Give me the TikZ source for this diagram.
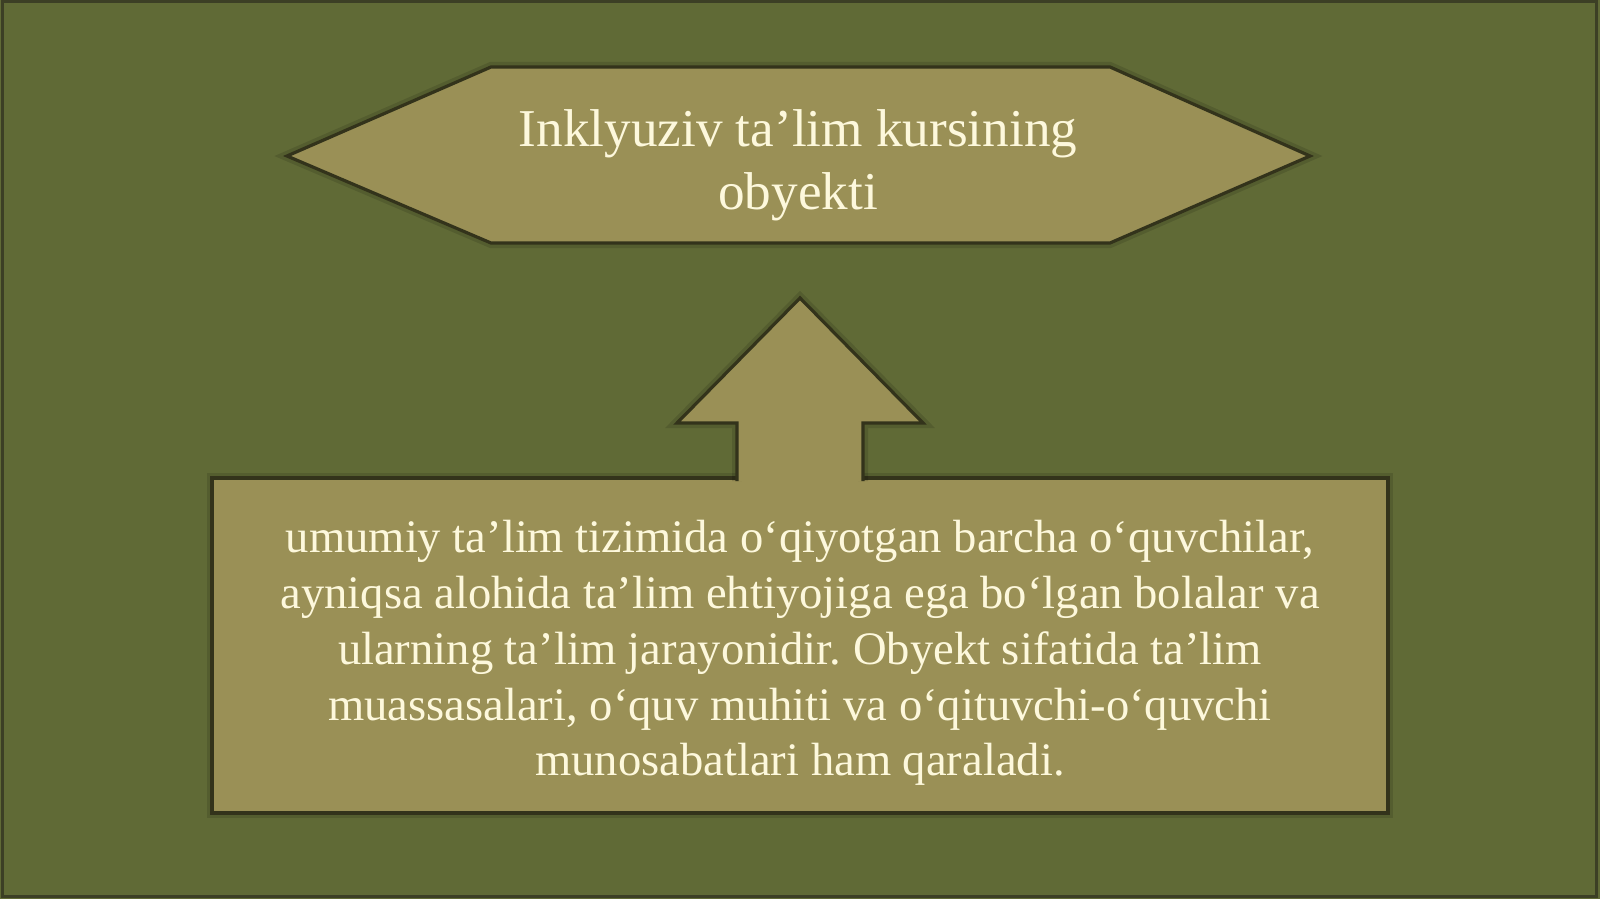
\documentclass[tikz,border=0pt]{standalone}
\usepackage{fontspec}
\setmainfont{Liberation Serif}
\frenchspacing
\definecolor{bgolive}{HTML}{606A36}
\definecolor{shapefill}{HTML}{9A9056}
\definecolor{edgedark}{HTML}{33331B}
\definecolor{frameline}{HTML}{3C3F25}
\definecolor{textcream}{HTML}{FDF8DC}
\tikzset{
  panel/.style={fill=shapefill, draw=edgedark, line width=1.6pt, line join=miter},
  halo/.style={draw=black, draw opacity=0.12, line width=5pt, line join=miter},
  titletext/.style={text=textcream, align=center, inner sep=0pt, anchor=north,
    font=\fontsize{26.6}{31.5}\selectfont},
  bodytext/.style={text=textcream, align=center, inner sep=0pt, anchor=north,
    font=\fontsize{23.3}{27.9}\selectfont},
}
\begin{document}
\begin{tikzpicture}[x=0.5pt,y=-0.5pt]
  \useasboundingbox (0,0) rectangle (1600,899);
  \fill[bgolive] (0,0) rectangle (1600,899);
  \draw[frameline, line width=1.5pt] (2,1.5) rectangle (1596,896);

  % hexagon (title)
  \coordinate (hL) at (287,156);
  \coordinate (hTL) at (491,67);
  \coordinate (hTR) at (1110,67);
  \coordinate (hR) at (1310,156);
  \coordinate (hBR) at (1110,243);
  \coordinate (hBL) at (491,243);
  \draw[halo] (hL) -- (hTL) -- (hTR) -- (hR) -- (hBR) -- (hBL) -- cycle;
  \draw[panel] (hL) -- (hTL) -- (hTR) -- (hR) -- (hBR) -- (hBL) -- cycle;

  % rectangle (body)
  \coordinate (rTL) at (212,478);
  \coordinate (rBR) at (1388,813);
  \draw[halo] (rTL) rectangle (rBR);
  \draw[panel] (rTL) rectangle (rBR);

  % up arrow
  \coordinate (aSL) at (737,481);
  \coordinate (aNL) at (737,423);
  \coordinate (aHL) at (677,423);
  \coordinate (aTip) at (800,298);
  \coordinate (aHR) at (923,423);
  \coordinate (aNR) at (863,423);
  \coordinate (aSR) at (863,481);
  \draw[halo] (aSL) -- (aNL) -- (aHL) -- (aTip) -- (aHR) -- (aNR) -- (aSR);
  \filldraw[panel] (aSL) -- (aNL) -- (aHL) -- (aTip) -- (aHR) -- (aNR) -- (aSR);

  \node[titletext] (title) at (798,109) {Inklyuziv ta’lim kursining\\obyekti};
  \node[bodytext] (body) at (800,520) {umumiy ta’lim tizimida o‘qiyotgan barcha o‘quvchilar,\\ayniqsa alohida ta’lim ehtiyojiga ega bo‘lgan bolalar va\\ularning ta’lim jarayonidir. Obyekt sifatida ta’lim\\muassasalari, o‘quv muhiti va o‘qituvchi-o‘quvchi\\munosabatlari ham qaraladi.};
\end{tikzpicture}
\end{document}
